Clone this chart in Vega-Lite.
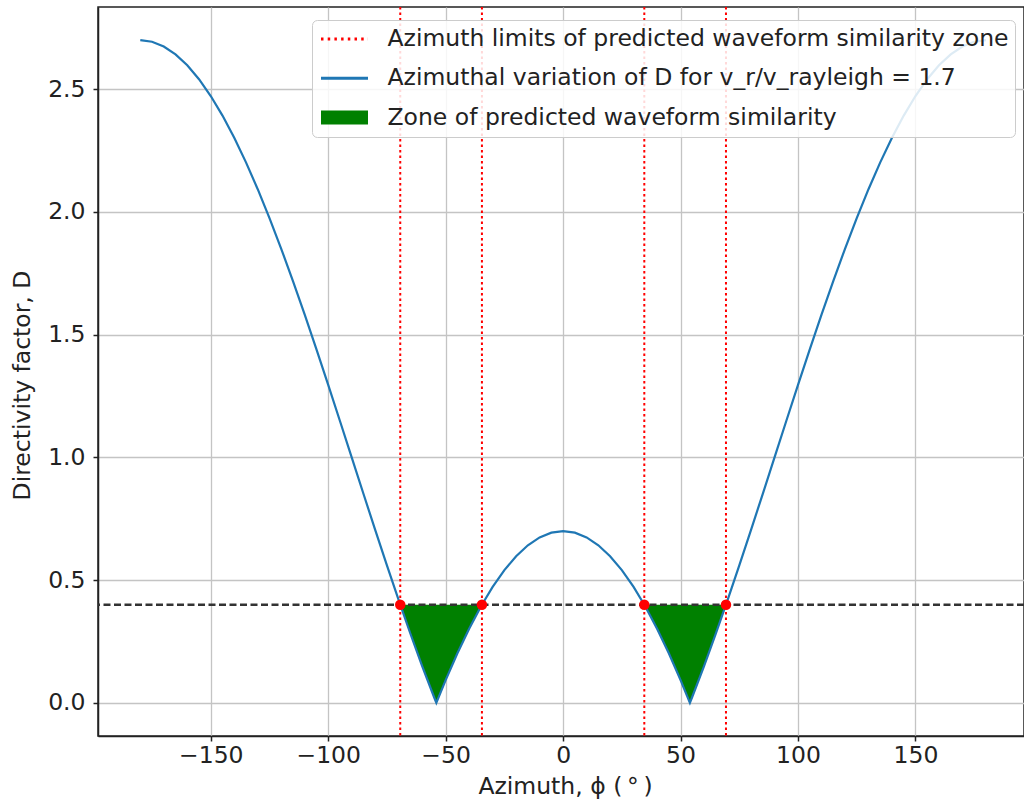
{
  "$schema": "https://vega.github.io/schema/vega-lite/v6.json",
  "width": 926,
  "height": 729,
  "autosize": {"type": "none"},
  "padding": {"left": 98, "top": 7, "right": 0, "bottom": 71},
  "config": {
    "font": "DejaVu Sans",
    "view": {"stroke": "#222", "strokeWidth": 1.5},
    "axis": {
      "labelFontSize": 23.5, "titleFontSize": 23.5, "titleFontWeight": "normal",
      "labelColor": "#222", "titleColor": "#222",
      "domainColor": "#222", "domainWidth": 1.5,
      "tickColor": "#222", "tickWidth": 1.5, "tickSize": 5,
      "gridColor": "#c4c4c4", "gridWidth": 1.3
    }
  },
  "datasets": {
    "curve": [
      {"phi": -180, "D": 2.7}, {"phi": -175, "D": 2.6935}, {"phi": -170, "D": 2.6742}, {"phi": -165, "D": 2.6421},
      {"phi": -160, "D": 2.5975}, {"phi": -155, "D": 2.5407}, {"phi": -150, "D": 2.4722}, {"phi": -145, "D": 2.3926},
      {"phi": -140, "D": 2.3023}, {"phi": -135, "D": 2.2021}, {"phi": -130, "D": 2.0927}, {"phi": -125, "D": 1.9751},
      {"phi": -120, "D": 1.85}, {"phi": -115, "D": 1.7185}, {"phi": -110, "D": 1.5814}, {"phi": -105, "D": 1.44},
      {"phi": -100, "D": 1.2952}, {"phi": -95, "D": 1.1482}, {"phi": -90, "D": 1.0}, {"phi": -85, "D": 0.8518},
      {"phi": -80, "D": 0.7048}, {"phi": -75, "D": 0.56}, {"phi": -70, "D": 0.4186}, {"phi": -69.33, "D": 0.4},
      {"phi": -65, "D": 0.2816}, {"phi": -60, "D": 0.15}, {"phi": -55, "D": 0.0249}, {"phi": -53.97, "D": 0},
      {"phi": -50, "D": 0.0927}, {"phi": -45, "D": 0.2021}, {"phi": -40, "D": 0.3023}, {"phi": -35, "D": 0.3926},
      {"phi": -34.56, "D": 0.4}, {"phi": -30, "D": 0.4722}, {"phi": -25, "D": 0.5407}, {"phi": -20, "D": 0.5975},
      {"phi": -15, "D": 0.6421}, {"phi": -10, "D": 0.6742}, {"phi": -5, "D": 0.6935}, {"phi": 0, "D": 0.7},
      {"phi": 5, "D": 0.6935}, {"phi": 10, "D": 0.6742}, {"phi": 15, "D": 0.6421}, {"phi": 20, "D": 0.5975},
      {"phi": 25, "D": 0.5407}, {"phi": 30, "D": 0.4722}, {"phi": 34.56, "D": 0.4}, {"phi": 35, "D": 0.3926},
      {"phi": 40, "D": 0.3023}, {"phi": 45, "D": 0.2021}, {"phi": 50, "D": 0.0927}, {"phi": 53.97, "D": 0},
      {"phi": 55, "D": 0.0249}, {"phi": 60, "D": 0.15}, {"phi": 65, "D": 0.2816}, {"phi": 69.33, "D": 0.4},
      {"phi": 70, "D": 0.4186}, {"phi": 75, "D": 0.56}, {"phi": 80, "D": 0.7048}, {"phi": 85, "D": 0.8518},
      {"phi": 90, "D": 1.0}, {"phi": 95, "D": 1.1482}, {"phi": 100, "D": 1.2952}, {"phi": 105, "D": 1.44},
      {"phi": 110, "D": 1.5814}, {"phi": 115, "D": 1.7185}, {"phi": 120, "D": 1.85}, {"phi": 125, "D": 1.9751},
      {"phi": 130, "D": 2.0927}, {"phi": 135, "D": 2.2021}, {"phi": 140, "D": 2.3023}, {"phi": 145, "D": 2.3926},
      {"phi": 150, "D": 2.4722}, {"phi": 155, "D": 2.5407}, {"phi": 160, "D": 2.5975}, {"phi": 165, "D": 2.6421},
      {"phi": 170, "D": 2.6742}, {"phi": 175, "D": 2.6935}, {"phi": 180, "D": 2.7}
    ],
    "zone": [
      {"zone": "left", "phi": -69.33, "D": 0.4}, {"zone": "left", "phi": -65, "D": 0.2816}, {"zone": "left", "phi": -60, "D": 0.15},
      {"zone": "left", "phi": -55, "D": 0.0249}, {"zone": "left", "phi": -53.97, "D": 0}, {"zone": "left", "phi": -50, "D": 0.0927},
      {"zone": "left", "phi": -45, "D": 0.2021}, {"zone": "left", "phi": -40, "D": 0.3023}, {"zone": "left", "phi": -35, "D": 0.3926},
      {"zone": "left", "phi": -34.56, "D": 0.4},
      {"zone": "right", "phi": 34.56, "D": 0.4}, {"zone": "right", "phi": 35, "D": 0.3926}, {"zone": "right", "phi": 40, "D": 0.3023},
      {"zone": "right", "phi": 45, "D": 0.2021}, {"zone": "right", "phi": 50, "D": 0.0927}, {"zone": "right", "phi": 53.97, "D": 0},
      {"zone": "right", "phi": 55, "D": 0.0249}, {"zone": "right", "phi": 60, "D": 0.15}, {"zone": "right", "phi": 65, "D": 0.2816},
      {"zone": "right", "phi": 69.33, "D": 0.4}
    ],
    "limits": [
      {"phi": -69.33, "D": 0.4}, {"phi": -34.56, "D": 0.4}, {"phi": 34.56, "D": 0.4}, {"phi": 69.33, "D": 0.4}
    ],
    "thresh": [{"D": 0.4}]
  },
  "layer": [
    {
      "data": {"name": "zone"},
      "mark": {"type": "area", "opacity": 1, "clip": true},
      "encoding": {
        "x": {"field": "phi", "type": "quantitative",
          "scale": {"domain": [-198, 196.2], "nice": false, "zero": false},
          "axis": {"title": "Azimuth, ϕ (\u2009°\u2009)", "values": [-150, -100, -50, 0, 50, 100, 150], "labelPadding": 2, "titlePadding": 8, "titleX": 467}},
        "y": {"field": "D", "type": "quantitative",
          "scale": {"domain": [-0.135, 2.835], "nice": false, "zero": false},
          "axis": {"title": "Directivity factor, D", "values": [0, 0.5, 1, 1.5, 2, 2.5], "format": ".1f", "titlePadding": 13, "labelPadding": 8, "titleY": 378}},
        "y2": {"datum": 0.4},
        "detail": {"field": "zone"},
        "color": {"datum": "Zone of predicted waveform similarity",
          "scale": {"domain": ["Azimuth limits of predicted waveform similarity zone", "Azimuthal variation of D for v_r/v_rayleigh = 1.7", "Zone of predicted waveform similarity"],
                    "range": ["#ff0000", "#1f77b4", "#008000"]},
          "legend": {
            "title": null, "orient": "none", "legendX": 214, "legendY": 13,
            "fillColor": "rgba(255,255,255,0.85)", "strokeColor": "#cccccc", "cornerRadius": 5, "padding": 6,
            "labelFontSize": 23.5, "labelColor": "#222", "labelOffset": 18, "labelLimit": 900,
            "symbolSize": 2209, "symbolOffset": 1.5, "rowPadding": 13.25, "clipHeight": 26,
            "symbolOpacity": 1, "symbolStrokeWidth": 3,
            "symbolType": {"expr": "datum.value === 'Zone of predicted waveform similarity' ? 'M-0.936,-0.236H0.936V0.236H-0.936Z' : 'stroke'"},
            "symbolStrokeColor": {"expr": "datum.value === 'Azimuth limits of predicted waveform similarity zone' ? '#ff3030' : (datum.value === 'Zone of predicted waveform similarity' ? '#008000' : '#1f77b4')"},
            "symbolDash": {"expr": "datum.value === 'Azimuth limits of predicted waveform similarity zone' ? [2.5, 4.2] : [1, 0]"}
          }}
      }
    },
    {
      "data": {"name": "curve"},
      "mark": {"type": "line", "strokeWidth": 2.2, "clip": true},
      "encoding": {
        "x": {"field": "phi", "type": "quantitative"},
        "y": {"field": "D", "type": "quantitative"},
        "color": {"datum": "Azimuthal variation of D for v_r/v_rayleigh = 1.7"}
      }
    },
    {
      "data": {"name": "limits"},
      "mark": {"type": "rule", "strokeWidth": 2, "strokeDash": [2.5, 3]},
      "encoding": {
        "x": {"field": "phi", "type": "quantitative"},
        "color": {"datum": "Azimuth limits of predicted waveform similarity zone"}
      }
    },
    {
      "data": {"name": "thresh"},
      "mark": {"type": "rule", "strokeWidth": 2.5, "strokeDash": [7, 3.5], "color": "#333333"},
      "encoding": {
        "y": {"field": "D", "type": "quantitative"}
      }
    },
    {
      "data": {"name": "limits"},
      "mark": {"type": "circle", "size": 110, "color": "#ff0000", "opacity": 1},
      "encoding": {
        "x": {"field": "phi", "type": "quantitative"},
        "y": {"field": "D", "type": "quantitative"}
      }
    }
  ]
}
